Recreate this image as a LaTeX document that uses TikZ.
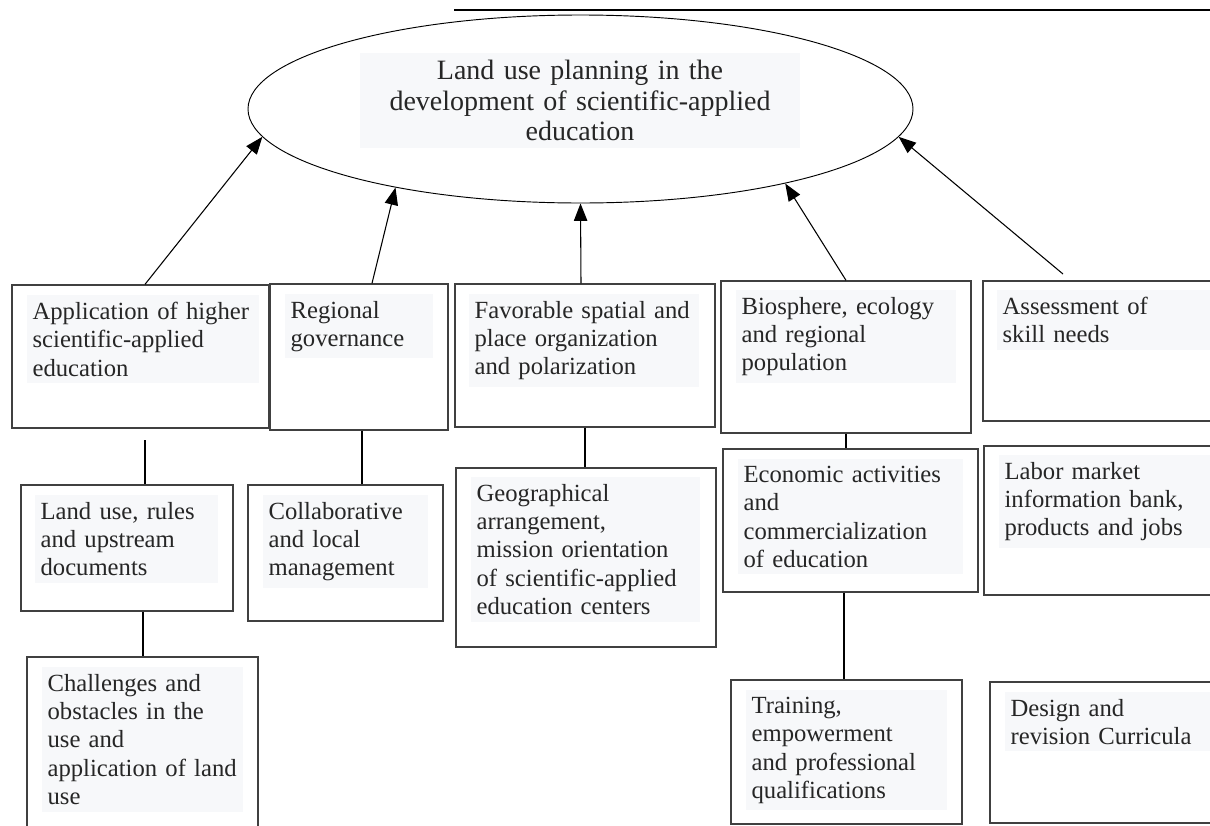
\documentclass[tikz,border=0pt]{standalone}
\usepackage{fontspec}
\setmainfont{Liberation Serif}
\usetikzlibrary{shapes.geometric, arrows.meta, fit}

\definecolor{boxline}{HTML}{404040}
\definecolor{textbg}{HTML}{F7F8FA}
\definecolor{inktext}{HTML}{262626}

\tikzset{
  box/.style={draw=boxline, line width=1pt, inner sep=0pt},
  txt/.style={fill=textbg, anchor=north west, align=left, inner xsep=4pt, inner ysep=5pt,
              text=inktext, font=\fontsize{18.5}{21.3}\selectfont},
  arr/.style={-{Triangle[length=13pt,width=10pt]}, line width=0.8pt},
  link/.style={line width=0.8pt},
}

\begin{document}
\begin{tikzpicture}[x=0.75pt, y=-0.75pt]
    % --- 1. frame of the page ---
    \useasboundingbox (0,0) rectangle (1210,825);
    \clip (0,0) rectangle (1210,825);
    \draw[line width=0.8pt] (454,10) -- (1210,10);

    % --- 2. goal ellipse and its title ---
    \node[ellipse, draw, line width=0.7pt, minimum width=498.75pt, minimum height=141pt, inner sep=0pt] (goal) at (580.5,109) {};
    \node[fill=textbg, text=inktext, align=center, text width=322pt, inner xsep=4pt, inner ysep=5pt,
          font=\fontsize{21}{23}\selectfont] (goaltxt) at (580,100.5)
          {Land use planning in the\\ development of scientific-applied\\ education};

    % --- 3. first row of boxes ---
    \node[box, fit={(12,285) (269,428)}] (app) {};
    \node[box, fit={(270,284) (448,430)}] (reg) {};
    \node[box, fit={(455,284) (715,427)}] (fav) {};
    \node[box, fit={(721,281) (971,433)}] (bio) {};
    \node[box, fit={(983,281) (1240,421)}] (ass) {};

    \node[txt, text width=166pt] (apptxt) at (27,295) {Application of higher\\ scientific-applied\\ education};
    \node[txt, text width=103pt] (regtxt) at (285,294) {Regional\\ governance};
    \node[txt, text width=164.5pt] (favtxt) at (469,294) {Favorable spatial and\\ place organization\\ and polarization};
    \node[txt, text width=157pt] (biotxt) at (736,290) {Biosphere, ecology\\ and regional\\ population};
    \node[txt, text width=172pt] (asstxt) at (997,290) {Assessment of\\ skill needs};

    % --- 4. second row of boxes ---
    \node[box, fit={(21,485) (233,611)}] (land) {};
    \node[box, fit={(248,485) (443,621)}] (col) {};
    \node[box, fit={(456,468) (716,647)}] (geo) {};
    \node[box, fit={(723,449) (978,592)}] (eco) {};
    \node[box, fit={(984,446) (1240,595)}] (lab) {};

    \node[txt, text width=129.25pt] (landtxt) at (35,495) {Land use, rules\\ and upstream\\ documents};
    \node[txt, text width=115.75pt] (coltxt) at (263,495) {Collaborative\\ and local\\ management};
    \node[txt, text width=163.75pt] (geotxt) at (471,477) {Geographical\\ arrangement,\\ mission orientation\\ of scientific-applied\\ education centers};
    \node[txt, text width=160.75pt] (ecotxt) at (738,459) {Economic activities\\ and\\ commercialization\\ of education};
    \node[txt, text width=172pt] (labtxt) at (999,455) {Labor market\\ information bank,\\ products and jobs};

    % --- 5. third row of boxes ---
    \node[box, fit={(27,657) (258,860)}] (chal) {};
    \node[box, fit={(731,680) (962,824)}] (tra) {};
    \node[box, fit={(990,682) (1240,823)}] (des) {};

    \node[txt, text width=142.75pt] (chaltxt) at (42,667) {Challenges and\\ obstacles in the\\ use and\\ application of land\\ use};
    \node[txt, text width=142.75pt] (tratxt) at (746,690) {Training,\\ empowerment\\ and professional\\ qualifications};
    \node[txt, text width=172pt] (destxt) at (1005,692) {Design and\\ revision Curricula};

    % --- 6. arrows up to the goal ---
    \coordinate (asstop) at (1063,274);
    \draw[arr] (145,0 |- app.north) -- (goal.185);
    \draw[arr] (372,0 |- reg.north) -- (goal.203.2);
    \draw[arr] (581,0 |- fav.north) -- (goal.270);
    \draw[arr] (846,0 |- bio.north) -- (goal.340.7);
    \draw[arr] (asstop) -- (goal.355);

    % --- 7. plain links between the rows ---
    \coordinate (appfoot) at (145,440);
    \draw[link] (appfoot) -- (appfoot |- land.north);
    \draw[link] (362,0 |- reg.south) -- (362,0 |- col.north);
    \draw[link] (585,0 |- fav.south) -- (585,0 |- geo.north);
    \draw[link] (846,0 |- bio.south) -- (846,0 |- eco.north);
    \draw[link] (143,0 |- land.south) -- (143,0 |- chal.north);
    \draw[link] (844,0 |- eco.south) -- (844,0 |- tra.north);
\end{tikzpicture}
\end{document}
